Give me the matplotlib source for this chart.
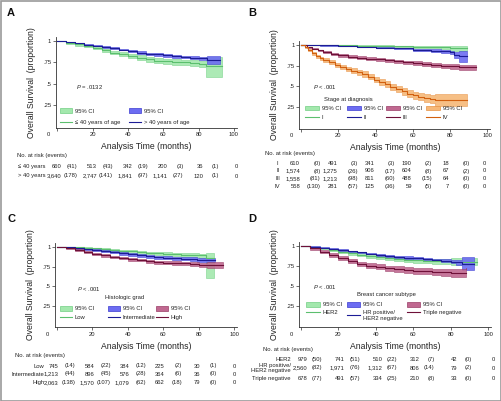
import numpy as np
import matplotlib
matplotlib.use('Agg')
import matplotlib.pyplot as plt
import matplotlib.transforms as mtransforms
from matplotlib import font_manager
from matplotlib.legend import Legend
from matplotlib.patches import Patch, Rectangle
from matplotlib.lines import Line2D

names = {f.name for f in font_manager.fontManager.ttflist}
if 'Liberation Sans Narrow' in names:
    NARROW, TITLE_FS, SMALL = 'Liberation Sans Narrow', 7.4, 4.8
else:
    NARROW, TITLE_FS, SMALL = 'Liberation Sans', 6.2, 4.2

plt.rcParams['font.family'] = [NARROW, 'Liberation Sans', 'DejaVu Sans']
plt.rcParams['mathtext.fontset'] = 'custom'
plt.rcParams['mathtext.it'] = NARROW + ':italic'
plt.rcParams['mathtext.rm'] = NARROW

# ---------------- data ----------------
ticks = [0, 20, 40, 60, 80, 100]

# A: age
a_young_t = [0, 5, 10, 15, 20, 25, 30, 35, 40, 45, 50, 55, 60, 65, 70, 75, 80, 84, 93.5]
a_young = [1.0, .98, .96, .94, .92, .89, .865, .845, .825, .805, .785, .77, .76, .755, .75, .74, .73, .71, .71]
a_young_lo = [1.0, .97, .947, .924, .901, .869, .842, .82, .798, .776, .755, .739, .728, .721, .715, .704, .69, .575, .575]
a_young_hi = [1.0, .99, .972, .955, .938, .91, .886, .868, .85, .832, .813, .799, .79, .786, .783, .774, .767, .815, .815]
a_old_t = [0, 5, 10, 15, 20, 25, 30, 35, 40, 45, 50, 55, 60, 65, 70, 75, 80, 85, 92]
a_old = [1.0, .985, .972, .958, .944, .93, .915, .9, .88, .865, .852, .842, .832, .822, .812, .803, .795, .78, .78]
a_old_lo = [1.0, .981, .967, .952, .937, .922, .906, .89, .869, .853, .839, .828, .817, .806, .795, .784, .772, .73, .73]
a_old_hi = [1.0, .989, .977, .964, .951, .938, .924, .91, .891, .877, .865, .856, .847, .838, .829, .822, .818, .83, .83]
a_rows = ['\u2264 40 years', '> 40 years']
a_risk = [[660, 513, 342, 200, 36, 0], [3640, 2747, 1841, 1141, 120, 0]]
a_events = [[41, 43, 19, 3, 1], [178, 141, 97, 27, 1]]

# B: stage
b1_t = [0, 10, 20, 30, 40, 50, 60, 70, 75, 80, 89]
b1 = [1, .998, .995, .992, .988, .985, .98, .975, .97, .965, .965]
b1_lo = [1, .995, .99, .985, .98, .975, .968, .96, .953, .93, .93]
b1_hi = [1, 1.0, .999, .997, .995, .993, .99, .987, .984, .982, .982]
b2_t = [0, 10, 20, 30, 40, 50, 60, 70, 75, 80, 82, 85, 89]
b2 = [1, .995, .988, .978, .968, .958, .945, .932, .922, .912, .88, .865, .865]
b2_lo = [1, .991, .982, .97, .958, .946, .931, .915, .902, .888, .84, .79, .79]
b2_hi = [1, .998, .993, .985, .977, .968, .957, .947, .939, .932, .915, .925, .925]
b3_t = [0, 3, 6, 9, 12, 16, 20, 25, 30, 35, 40, 45, 50, 55, 60, 65, 70, 75, 80, 85, 94]
b3 = [1, .975, .955, .935, .917, .895, .875, .86, .845, .835, .825, .812, .8, .79, .782, .77, .76, .75, .74, .73, .73]
b3_lo = [1, .968, .946, .924, .904, .881, .86, .844, .828, .817, .806, .792, .779, .768, .759, .746, .735, .724, .713, .70, .70]
b3_hi = [1, .981, .963, .945, .929, .908, .889, .875, .861, .852, .843, .831, .82, .811, .804, .793, .784, .775, .766, .758, .758]
b4_t = [0, 2, 4, 6, 8, 10, 12, 15, 18, 21, 24, 27, 30, 33, 36, 39, 42, 45, 48, 51, 54, 57, 60, 63, 66, 69, 72, 89]
b4 = [1, .97, .94, .9, .865, .84, .82, .79, .76, .735, .71, .69, .67, .65, .615, .58, .555, .525, .495, .465, .435, .41, .39, .37, .355, .34, .33, .33]
b4_lo = [1, .958, .925, .882, .845, .818, .797, .765, .733, .707, .68, .659, .638, .617, .581, .545, .519, .488, .457, .426, .395, .369, .348, .326, .309, .29, .26, .26]
b4_hi = [1, .98, .953, .916, .883, .86, .841, .813, .785, .761, .738, .719, .70, .681, .647, .613, .589, .56, .531, .502, .473, .45, .431, .413, .40, .39, .404, .404]
b_rows = ['I', 'II', 'III', 'IV']
b_risk = [[610, 491, 341, 190, 18, 0], [1574, 1275, 906, 604, 67, 0],
          [1558, 1213, 811, 488, 64, 0], [558, 281, 125, 59, 7, 0]]
b_events = [[0, 3, 3, 2, 0], [8, 26, 17, 8, 2], [81, 98, 60, 15, 0], [130, 57, 36, 5, 0]]

# C: histologic grade
c_low_t = [0, 5, 10, 15, 20, 25, 30, 35, 40, 45, 50, 55, 60, 65, 70, 75, 80, 84, 88.7]
c_low = [1, .995, .99, .985, .978, .97, .96, .95, .94, .93, .922, .915, .91, .905, .9, .895, .89, .855, .855]
c_low_lo = [1, .99, .983, .976, .967, .957, .946, .935, .923, .912, .902, .894, .888, .882, .876, .87, .862, .61, .61]
c_low_hi = [1, .998, .995, .991, .986, .98, .972, .964, .955, .946, .939, .933, .929, .925, .921, .917, .914, .92, .92]
c_mid_t = [0, 5, 10, 15, 20, 25, 30, 35, 40, 45, 50, 55, 60, 65, 70, 75, 79, 89.3]
c_mid = [1, .99, .98, .97, .957, .945, .93, .915, .902, .89, .877, .867, .86, .855, .85, .845, .83, .83]
c_mid_lo = [1, .984, .972, .96, .945, .931, .915, .899, .885, .872, .858, .847, .839, .833, .827, .821, .805, .805]
c_mid_hi = [1, .995, .987, .979, .968, .958, .944, .93, .918, .907, .895, .886, .88, .876, .872, .868, .855, .855]
c_high_t = [0, 5, 10, 15, 20, 25, 30, 35, 40, 45, 50, 55, 60, 65, 70, 75, 80, 85, 93.6]
c_high = [1, .98, .96, .935, .905, .89, .87, .855, .842, .832, .818, .806, .8, .795, .79, .785, .775, .768, .768]
c_high_lo = [1, .974, .951, .924, .892, .876, .855, .839, .825, .814, .799, .786, .779, .773, .767, .761, .749, .728, .728]
c_high_hi = [1, .986, .968, .945, .917, .903, .884, .87, .858, .849, .836, .825, .82, .816, .812, .808, .8, .808, .808]
c_rows = ['Low', 'Intermediate', 'High']
c_risk = [[745, 584, 384, 225, 30, 0], [1213, 896, 576, 364, 36, 0], [2063, 1570, 1079, 662, 79, 0]]
c_events = [[14, 22, 12, 2, 1], [44, 45, 28, 6, 0], [138, 107, 62, 18, 0]]

# D: subtype
d_her2_t = [0, 5, 10, 15, 20, 25, 30, 35, 40, 45, 50, 55, 60, 65, 70, 75, 80, 94]
d_her2 = [1, .985, .97, .95, .93, .91, .89, .875, .86, .847, .835, .826, .82, .815, .81, .808, .805, .805]
d_her2_lo = [1, .977, .959, .937, .915, .893, .871, .854, .838, .823, .81, .8, .792, .786, .78, .776, .765, .765]
d_her2_hi = [1, .992, .98, .962, .944, .926, .908, .894, .88, .869, .858, .85, .845, .842, .838, .838, .845, .845]
d_hr_t = [0, 5, 10, 15, 20, 25, 30, 35, 40, 45, 50, 55, 60, 65, 70, 75, 80, 83, 86, 92.5]
d_hr = [1, .99, .98, .965, .95, .935, .92, .905, .89, .877, .866, .856, .846, .836, .826, .816, .806, .795, .78, .78]
d_hr_lo = [1, .986, .975, .959, .943, .927, .911, .895, .879, .865, .853, .842, .831, .82, .809, .797, .785, .765, .70, .70]
d_hr_hi = [1, .994, .985, .971, .957, .943, .929, .915, .901, .889, .879, .87, .861, .852, .843, .835, .827, .825, .86, .86]
d_tn_t = [0, 5, 10, 15, 20, 25, 30, 35, 40, 45, 50, 55, 60, 65, 70, 75, 80, 88.2]
d_tn = [1, .97, .93, .89, .85, .81, .778, .756, .74, .725, .712, .7, .69, .684, .676, .67, .665, .665]
d_tn_lo = [1, .956, .91, .866, .824, .782, .748, .725, .707, .691, .677, .664, .653, .646, .637, .63, .61, .61]
d_tn_hi = [1, .981, .946, .911, .873, .835, .805, .784, .769, .756, .744, .733, .724, .719, .712, .707, .715, .72]
d_rows = ['HER2', 'HR positive/\nHER2 negative', 'Triple negative']
d_risk = [[979, 741, 510, 312, 42, 0], [2560, 1971, 1312, 806, 79, 0], [678, 491, 334, 210, 33, 0]]
d_events = [[50, 51, 22, 7, 0], [82, 76, 67, 14, 2], [77, 57, 25, 8, 0]]

# ---------------- colours ----------------
GREEN = ('#a3e8ad', '#72cf84', '#5cbf6e')
BLUE = ('#6c6cf2', '#3b3bd0', '#1c1c96')
MAROON = ('#c06890', '#9a3c66', '#6e1038')
ORANGE = ('#f6b878', '#e79245', '#d2600f')
TXT = '#222222'

W, H = 501, 401
fig = plt.figure(figsize=(W / 100, H / 100), dpi=100)


def fx(x):
    return x / W


def fy(y):
    return 1 - y / H


def make_axes(x0, xs, y0, y1):
    # x0: pixel of t=0, xs: pixels per month, y0/y1: pixel rows of S=0 and S=1
    ys = y0 - y1
    left, right = x0 - 1 * xs, x0 + 101.7 * xs
    top, bottom = y1 - 0.05 * ys, y0 + 0.015 * ys
    ax = fig.add_axes([fx(left), fy(bottom), (right - left) / W, (bottom - top) / H])
    ax.set_xlim(-1, 101.7)
    ax.set_ylim(-0.015, 1.05)
    for s in ['top', 'right']:
        ax.spines[s].set_visible(False)
    for s in ['left', 'bottom']:
        ax.spines[s].set_linewidth(0.6)
        ax.spines[s].set_color('#333333')
    ax.set_xticks(ticks)
    ax.set_xticklabels([''] + [str(t) for t in ticks[1:]])
    ax.set_yticks([.25, .5, .75, 1])
    ax.set_yticklabels(['.25', '.5', '.75', '1'])
    ax.tick_params(labelsize=SMALL, length=2, width=0.5, pad=1.2, colors='#333333', labelcolor=TXT)
    # axis titles
    cx = (left + right) / 2
    fig.text(fx(cx), fy(bottom + 19), 'Analysis Time (months)', ha='center', va='center',
             fontsize=TITLE_FS, color=TXT)
    fig.text(fx(left - 24.5), fy((top + bottom) / 2), 'Overall Survival  (proportion)', ha='center',
             va='center', rotation=90, fontsize=TITLE_FS, color=TXT)
    fig.text(fx(left - 7.5), fy(bottom + 7), '0', ha='center', va='center', fontsize=SMALL, color=TXT)
    return ax


def km(ax, t, lo, hi, col):
    ax.fill_between(t, lo, hi, step='post', facecolor=col[0], edgecolor=col[1], lw=0.4, alpha=0.9)


def km_line(ax, t, s, col):
    ax.step(t, s, where='post', color=col[2], lw=0.8)


def legend_cols(ax, entries, xs_px, ytop_px, hl, spacing):
    for (col, lab), xp in zip(entries, xs_px):
        h = [Patch(facecolor=col[0], edgecolor=col[1], lw=0.5), Line2D([], [], color=col[2], lw=0.8)]
        leg = Legend(ax, h, ['95% CI', lab], loc='upper left', bbox_to_anchor=(fx(xp), fy(ytop_px)),
                     bbox_transform=fig.transFigure, frameon=False, fontsize=SMALL, handlelength=hl,
                     handleheight=0.9, handletextpad=0.5, labelspacing=spacing, borderpad=0,
                     borderaxespad=0)
        for tx in leg.get_texts():
            tx.set_color(TXT)
        ax.add_artist(leg)


def risk_table(ax, header, labels, lab_x, lab_ha, row_y, risk, events, noff, eoff):
    tr = mtransforms.blended_transform_factory(ax.transData, fig.transFigure)
    fig.text(fx(header[0]), fy(header[1]), 'No. at risk (events)', ha='left', va='center',
             fontsize=SMALL, color=TXT)
    for lab, y, nums, evs in zip(labels, row_y, risk, events):
        fig.text(fx(lab_x), fy(y), lab, ha=lab_ha, va='center', fontsize=SMALL, color=TXT,
                 linespacing=0.95, multialignment='right')
        for t, n in zip(ticks, nums):
            ax.text(t + noff, fy(y), f'{n:,}', transform=tr, ha='right', va='center',
                    fontsize=SMALL, color=TXT, clip_on=False)
        for t, e in zip(ticks[:-1], evs):
            ax.text(t + eoff, fy(y), f'({e})', transform=tr, ha='right', va='center',
                    fontsize=SMALL, color=TXT, clip_on=False)


# ---------------- panel A ----------------
axA = make_axes(57.4, 1.765, 126.3, 41)
km(axA, a_young_t, a_young_lo, a_young_hi, GREEN)
km(axA, a_old_t, a_old_lo, a_old_hi, BLUE)
km_line(axA, a_young_t, a_young, GREEN)
km_line(axA, a_old_t, a_old, BLUE)
legend_cols(axA, [(GREEN, '\u2264 40 years of age'), (BLUE, '> 40 years of age')], [60, 129], 108.3, 2.0, 1.0)
fig.text(fx(76), fy(87), r'$\it{P}$ = .0132', ha='left', va='center', fontsize=SMALL, color=TXT)
risk_table(axA, (17, 155.7), a_rows, 18, 'left', [166.7, 176], a_risk, a_events, 2.5, 11.5)

# ---------------- panel B ----------------
axB = make_axes(301, 1.8625, 127.3, 45)
for t, lo, hi, col in [(b1_t, b1_lo, b1_hi, GREEN), (b2_t, b2_lo, b2_hi, BLUE),
                       (b3_t, b3_lo, b3_hi, MAROON), (b4_t, b4_lo, b4_hi, ORANGE)]:
    km(axB, t, lo, hi, col)
for t, s, col in [(b1_t, b1, GREEN), (b2_t, b2, BLUE), (b3_t, b3, MAROON), (b4_t, b4, ORANGE)]:
    km_line(axB, t, s, col)
legend_cols(axB, [(GREEN, 'I'), (BLUE, 'II'), (MAROON, 'III'), (ORANGE, 'IV')],
            [305, 346.7, 386, 425.7], 105.5, 2.4, 0.6)
fig.text(fx(324), fy(100), 'Stage at diagnosis', ha='left', va='center', fontsize=SMALL, color=TXT)
fig.text(fx(313), fy(87.3), r'$\it{P}$ < .001', ha='left', va='center', fontsize=SMALL, color=TXT)
risk_table(axB, (265, 153.3), b_rows, 277.7, 'center', [163.3, 171, 178.7, 186.3], b_risk, b_events, -0.5, 10.5)

# ---------------- panel C ----------------
axC = make_axes(57, 1.77, 326, 246.7)
for t, lo, hi, col in [(c_low_t, c_low_lo, c_low_hi, GREEN), (c_mid_t, c_mid_lo, c_mid_hi, BLUE),
                       (c_high_t, c_high_lo, c_high_hi, MAROON)]:
    km(axC, t, lo, hi, col)
for t, s, col in [(c_low_t, c_low, GREEN), (c_mid_t, c_mid, BLUE), (c_high_t, c_high, MAROON)]:
    km_line(axC, t, s, col)
legend_cols(axC, [(GREEN, 'Low'), (BLUE, 'Intermediate'), (MAROON, 'High')], [60, 108, 156], 306, 2.0, 0.5)
fig.text(fx(105), fy(297), 'Histologic grad', ha='left', va='center', fontsize=SMALL, color=TXT)
fig.text(fx(76.7), fy(289.3), r'$\it{P}$ < .001', ha='left', va='center', fontsize=SMALL, color=TXT)
risk_table(axC, (15, 355.7), c_rows, 44.3, 'right', [366, 374, 382.7], c_risk, c_events, 1, 10.5)

# ---------------- panel D ----------------
axD = make_axes(300.9, 1.871, 326, 246)
for t, lo, hi, col in [(d_her2_t, d_her2_lo, d_her2_hi, GREEN), (d_hr_t, d_hr_lo, d_hr_hi, BLUE),
                       (d_tn_t, d_tn_lo, d_tn_hi, MAROON)]:
    km(axD, t, lo, hi, col)
for t, s, col in [(d_her2_t, d_her2, GREEN), (d_hr_t, d_hr, BLUE), (d_tn_t, d_tn, MAROON)]:
    km_line(axD, t, s, col)
legend_cols(axD, [(GREEN, 'HER2'), (BLUE, 'HR positive/\nHER2 negative'), (MAROON, 'Triple negative')],
            [306, 346.7, 406.7], 302, 2.35, 0.45)
fig.text(fx(356.7), fy(294.3), 'Breast cancer subtype', ha='left', va='center', fontsize=SMALL, color=TXT)
fig.text(fx(312.7), fy(287.3), r'$\it{P}$ < .001', ha='left', va='center', fontsize=SMALL, color=TXT)
risk_table(axD, (263, 350), d_rows, 290.7, 'right', [359.3, 368, 378.3], d_risk, d_events, 3.5, 11.5)

# panel letters
for lab, x, y in [('A', 7, 13), ('B', 248, 13), ('C', 7, 218.5), ('D', 248, 218.5)]:
    fig.text(fx(x), fy(y), lab, ha='left', va='center', fontsize=8, fontweight='bold',
             family='Liberation Sans', color='#111111')

# outer frame
fig.add_artist(Rectangle((0.5 / W, 0.5 / H), (W - 1) / W, (H - 1) / H, transform=fig.transFigure,
                         fill=False, edgecolor='#9a9a9a', lw=1.2))

fig.savefig('out.png', dpi=100)
